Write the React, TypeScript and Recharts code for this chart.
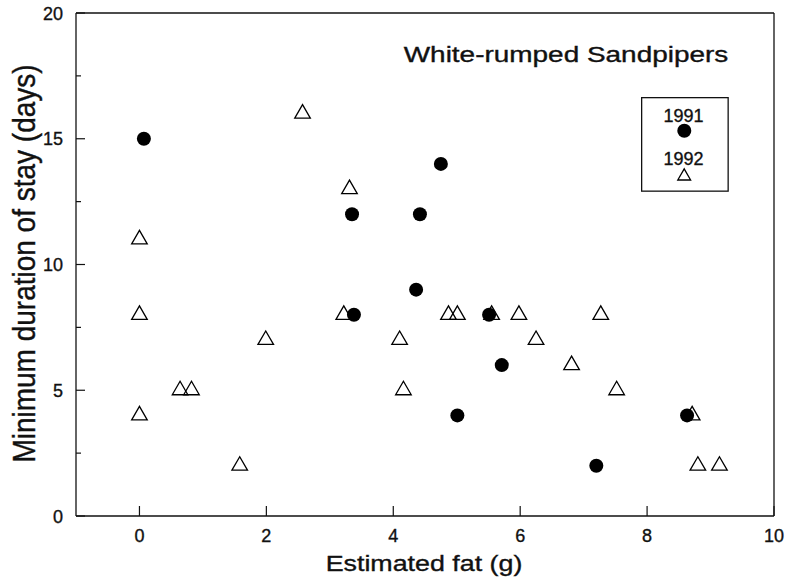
import React from 'react'
import { ScatterChart, Scatter, XAxis, YAxis, ReferenceLine, Legend, Customized, Label } from 'recharts'

// 1991 birds (filled circles)
const fat1991 = [0.07, 3.35, 4.42, 4.75, 4.36, 3.38, 5.51, 5.71, 5.01, 7.2, 8.63]
const stay1991 = [15, 12, 12, 14, 9, 8, 8, 6, 4, 2, 4]

// 1992 birds (open triangles)
const fat1992 = [0, 0, 0, 0.64, 0.82, 1.58, 1.99, 2.57, 3.31, 3.22, 4.1, 4.16, 4.87, 5.01, 5.55, 5.98, 6.25, 6.81, 7.27, 7.52, 8.71, 8.8, 9.14]
const stay1992 = [11, 8, 4, 5, 5, 2, 7, 16, 13, 8, 7, 5, 8, 8, 8, 8, 7, 6, 8, 5, 4, 2, 2]

const xTicks = [0, 2, 4, 6, 8, 10]
const yTicks = [0, 2.5, 5, 7.5, 10, 12.5, 15, 17.5, 20]
const years = ['1991', '1992']

const FONT = "'Liberation Sans', Arial, Helvetica, sans-serif"
const INK = '#111'
// scanned original has slightly heavy type
const heavy = { fill: INK, stroke: INK, strokeWidth: 0.35, fontFamily: FONT }

const data1991 = fat1991.map((x, i) => ({ x, y: stay1991[i] }))
const data1992 = fat1992.map((x, i) => ({ x, y: stay1992[i] }))

const triPoints = (cx: number, cy: number, h: number) => {
  const s = Math.sqrt(3) * h
  return `${cx},${cy - 2 * h} ${cx - s},${cy + h} ${cx + s},${cy + h}`
}

const Dot = (p: any) => <circle cx={p.cx} cy={p.cy} r={7} fill="#000" />
const Tri = (p: any) => (
  <polygon points={triPoints(p.cx, p.cy, 4.5)} fill="none" stroke="#000" strokeWidth={1.3} />
)

const YTick = ({ x, y, payload }: any) => {
  const major = payload.value % 5 === 0
  return (
    <g>
      <line x1={x} x2={x + (major ? 9 : 5)} y1={y} y2={y} stroke={INK} strokeWidth={1.2} />
      {major && (
        <text x={x - 13} y={y + 6.5} textAnchor="end" fontSize={18} {...heavy}>
          {payload.value}
        </text>
      )}
    </g>
  )
}

const XTick = ({ x, y, payload }: any) => (
  <g>
    <line x1={x} x2={x} y1={y} y2={y - 10} stroke={INK} strokeWidth={1.2} />
    <text x={x} y={y + 26} textAnchor="middle" fontSize={18} {...heavy}>
      {payload.value}
    </text>
  </g>
)

const XTitle = ({ viewBox }: any) => (
  <text
    transform={`translate(${viewBox.x + viewBox.width / 2 - 1},${viewBox.y + 55}) scale(1.22,1)`}
    textAnchor="middle" fontSize={22} {...heavy}
  >
    Estimated fat (g)
  </text>
)

const YTitle = ({ viewBox }: any) => (
  <text
    transform={`translate(${viewBox.x + 35},${viewBox.y + viewBox.height / 2 - 1}) scale(1.1,1) rotate(-90)`}
    textAnchor="middle" fontSize={28} {...heavy}
  >
    Minimum duration of stay (days)
  </text>
)

const Title = () => (
  <text transform="translate(566,62) scale(1.3,1)" textAnchor="middle" fontSize={21.5} {...heavy}>
    White-rumped Sandpipers
  </text>
)

const renderLegend = () => (
  <svg width={88} height={95} style={{ display: 'block' }}>
    <rect x={0.65} y={0.65} width={86.5} height={93.5} fill="#fff" stroke={INK} strokeWidth={1.3} />
    <text x={42.5} y={24.5} textAnchor="middle" fontSize={18} {...heavy}>{years[0]}</text>
    <circle cx={43.3} cy={33.7} r={7} fill="#000" />
    <text x={42.5} y={68} textAnchor="middle" fontSize={18} {...heavy}>{years[1]}</text>
    <polygon points={triPoints(43.2, 79.3, 3.7)} fill="none" stroke="#000" strokeWidth={1.3} />
  </svg>
)

export default function App() {
  return (
    <div style={{ position: 'fixed', left: 0, top: 0, width: 786, height: 578, overflow: 'hidden', background: '#fff' }}>
      <ScatterChart width={786} height={578} margin={{ top: 13, right: 12, bottom: 0, left: 0 }}>
        <XAxis
          type="number"
          dataKey="x"
          domain={[-1, 10]}
          ticks={xTicks}
          interval={0}
          height={62}
          tickSize={0}
          tickMargin={0}
          tickLine={false}
          tick={<XTick />}
          axisLine={{ stroke: INK, strokeWidth: 1.3 }}
        >
          <Label content={<XTitle />} />
        </XAxis>
        <YAxis
          type="number"
          dataKey="y"
          domain={[0, 20]}
          ticks={yTicks}
          interval={0}
          width={76}
          tickSize={0}
          tickMargin={0}
          tickLine={false}
          tick={<YTick />}
          axisLine={{ stroke: INK, strokeWidth: 1.3 }}
        >
          <Label content={<YTitle />} />
        </YAxis>
        <ReferenceLine y={20} stroke={INK} strokeWidth={1.3} />
        <ReferenceLine x={10} stroke={INK} strokeWidth={1.3} />
        <Scatter name="1992" data={data1992} shape={<Tri />} isAnimationActive={false} />
        <Scatter name="1991" data={data1991} shape={<Dot />} isAnimationActive={false} />
        <Legend
          layout="horizontal"
          verticalAlign="middle"
          align="center"
          content={renderLegend}
          wrapperStyle={{ position: 'absolute', left: 641, top: 97, width: 88, height: 95 }}
        />
        <Customized component={Title} />
      </ScatterChart>
    </div>
  )
}
